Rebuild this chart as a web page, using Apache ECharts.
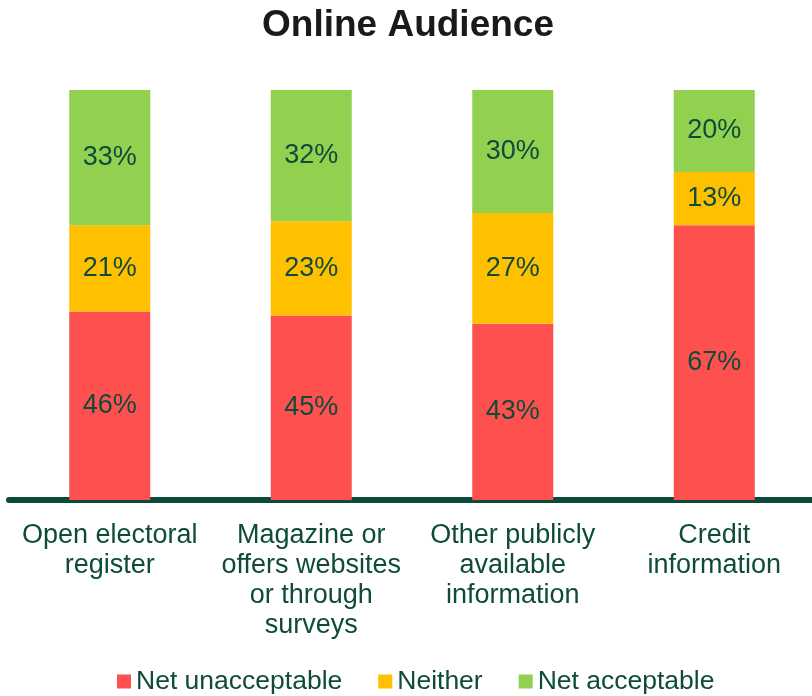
<!DOCTYPE html>
<html>
<head>
<meta charset="utf-8">
<script src="https://cdn.jsdelivr.net/npm/echarts@6/dist/echarts.min.js"></script>
<style>
html,body{margin:0;padding:0;background:#fff;overflow:hidden;}
#chart{width:816px;height:696px;}
</style>
</head>
<body>
<div id="chart"></div>
<script>
var categories = ['Open electoral\nregister', 'Magazine or\noffers websites\nor through\nsurveys', 'Other publicly\navailable\ninformation', 'Credit\ninformation'];
var seriesNames = ['Net unacceptable', 'Neither', 'Net acceptable'];
var netUnacceptable = [46, 45, 43, 67];
var neither = [21, 23, 27, 13];
var netAcceptable = [33, 32, 30, 20];
var colors = ['#FF5050', '#FFC000', '#92D050'];
var textColor = '#0E4B3B';
var font = 'Liberation Sans, Arial, sans-serif';

function mkSeries(name, data, color) {
  return {
    name: name,
    type: 'bar',
    stack: 'total',
    data: data,
    barWidth: 81,
    itemStyle: { color: color },
    label: {
      show: true,
      position: 'inside',
      formatter: '{c}%',
      color: textColor,
      fontSize: 27,
      fontFamily: font
    },
    emphasis: { disabled: true }
  };
}

var chart = echarts.init(document.getElementById('chart'));
chart.setOption({
  animation: false,
  title: {
    text: 'Online Audience',
    left: 'center',
    top: 2,
    textStyle: { fontSize: 37, fontWeight: 'bold', color: '#1A1A1A', fontFamily: font }
  },
  legend: {
    data: seriesNames,
    left: 117,
    top: 668,
    padding: 0,
    itemWidth: 14,
    itemHeight: 14,
    itemGap: 36,
    icon: 'rect',
    textStyle: { fontSize: 26.5, color: textColor, fontFamily: font }
  },
  grid: { left: 9, width: 806, top: 90, height: 410, containLabel: false },
  xAxis: {
    type: 'category',
    data: categories,
    offset: 3,
    axisLine: { show: true, lineStyle: { color: '#0A4A38', width: 6 } },
    axisTick: { show: false },
    axisLabel: {
      interval: 0,
      color: textColor,
      fontSize: 27,
      lineHeight: 30,
      margin: 18,
      fontFamily: font
    }
  },
  yAxis: {
    type: 'value',
    min: 0,
    max: 100,
    show: false,
    splitLine: { show: false }
  },
  series: [
    mkSeries(seriesNames[0], netUnacceptable, colors[0]),
    mkSeries(seriesNames[1], neither, colors[1]),
    mkSeries(seriesNames[2], netAcceptable, colors[2])
  ]
});
</script>
</body>
</html>
